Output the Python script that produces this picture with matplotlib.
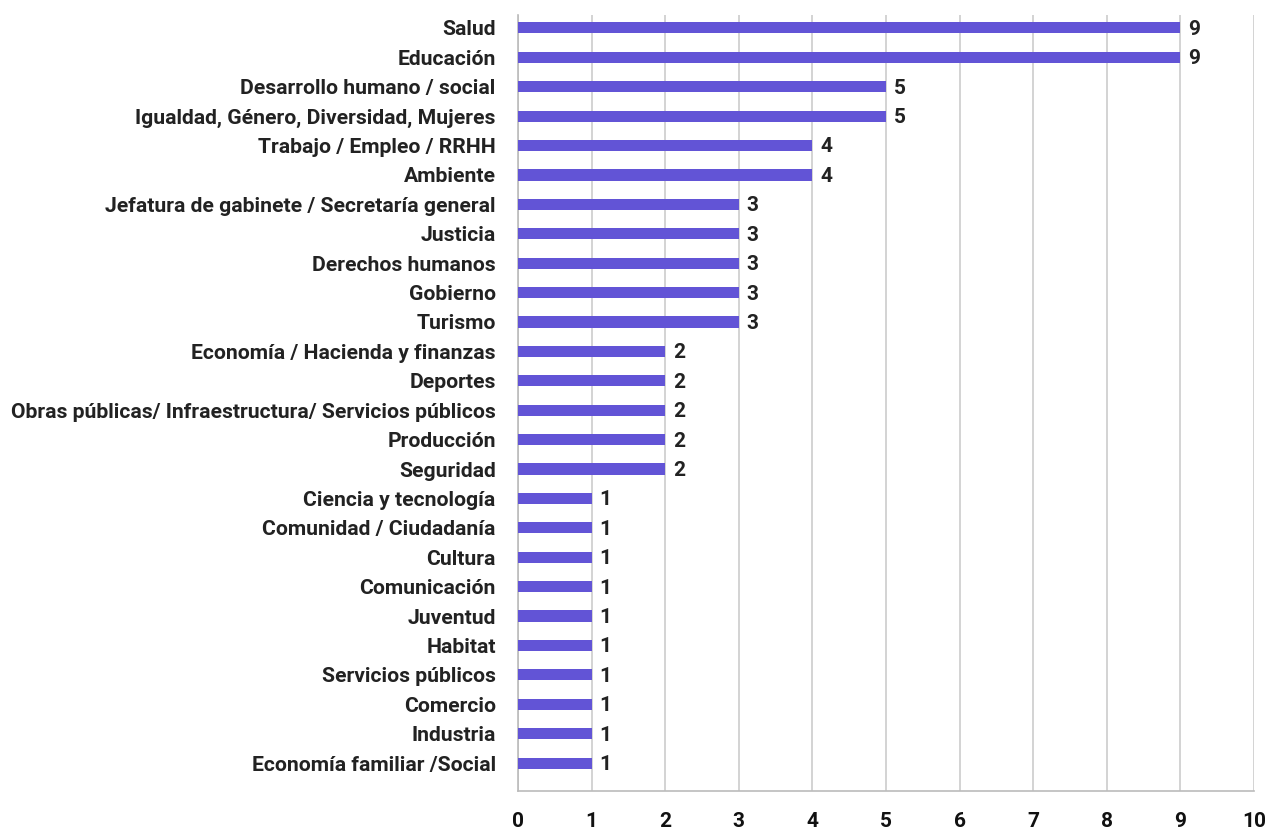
import matplotlib.pyplot as plt

categories = [
    "Salud", "Educación", "Desarrollo humano / social",
    "Igualdad, Género, Diversidad, Mujeres", "Trabajo / Empleo / RRHH", "Ambiente",
    "Jefatura de gabinete / Secretaría general", "Justicia", "Derechos humanos",
    "Gobierno", "Turismo", "Economía / Hacienda y finanzas", "Deportes",
    "Obras públicas/ Infraestructura/ Servicios públicos", "Producción", "Seguridad",
    "Ciencia y tecnología", "Comunidad / Ciudadanía", "Cultura", "Comunicación",
    "Juventud", "Habitat", "Servicios públicos", "Comercio", "Industria",
    "Economía familiar /Social",
]
values = [9, 9, 5, 5, 4, 4, 3, 3, 3, 3, 3, 2, 2, 2, 2, 2, 1, 1, 1, 1, 1, 1, 1, 1, 1, 1]
x_ticks = list(range(0, 11))

plt.rcParams['font.family'] = ['Roboto', 'DejaVu Sans']

fig = plt.figure(figsize=(12.72, 8.31), dpi=100)
ax = fig.add_axes([0.4072, 0.0481, 0.5786, 0.9339])

ypos = list(range(len(categories)))
ax.barh(ypos, values, height=0.38, color='#6254d6', zorder=3)

for y, v in zip(ypos, values):
    ax.text(v + 0.11, y + 0.05, str(v), va='center', ha='left', fontsize=15,
            fontweight='bold', color='#222222', zorder=4)

ax.set_xlim(0, 10)
ax.set_ylim(len(categories) - 1 + 0.95, -0.44)
ax.set_yticks(ypos)
ax.set_yticklabels(categories, fontsize=15.2, fontweight='bold', color='#222222')
ax.set_xticks(x_ticks)
ax.set_xticklabels([str(t) for t in x_ticks], fontsize=15, fontweight='bold', color='#111111')
ax.tick_params(axis='y', length=0, pad=16)
ax.tick_params(axis='x', length=0, pad=15)

ax.grid(axis='x', color='#cccccc', linewidth=1.2, zorder=0)
for side in ['top', 'right']:
    ax.spines[side].set_visible(False)
ax.spines['left'].set_color('#bbbbbb')
ax.spines['bottom'].set_color('#bbbbbb')
ax.spines['left'].set_linewidth(1.2)
ax.spines['bottom'].set_linewidth(1.2)

fig.savefig('out.png', dpi=100)
